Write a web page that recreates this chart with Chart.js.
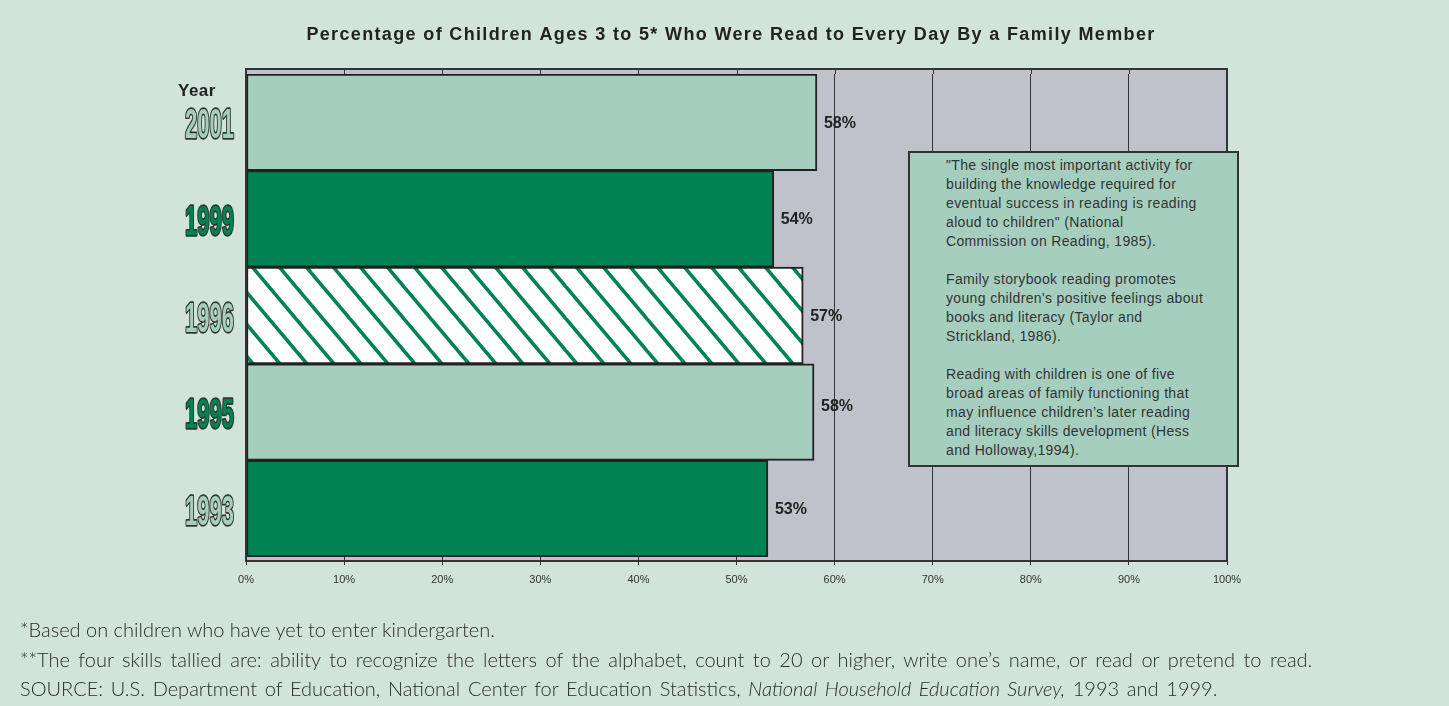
<!DOCTYPE html>
<html><head><meta charset="utf-8">
<script src="https://cdn.jsdelivr.net/npm/chart.js@4.4.1/dist/chart.umd.min.js"></script>
<style>
html,body{margin:0;padding:0;background:#d0e4dc;}
#wrap{position:relative;width:1449px;height:706px;overflow:hidden;background:#d0e4dc;}
canvas{position:absolute;left:0;top:0;}
#note{position:absolute;left:908px;top:151px;width:331px;height:316px;box-sizing:border-box;background:#a6cebf;border:2px solid #333;padding:3px 0 0 36px;font:14px "Liberation Sans",Arial,sans-serif;letter-spacing:0.35px;color:#333;line-height:19px;white-space:pre;}
#foot{position:absolute;left:20px;top:615px;font-family:Lato,"Open Sans",sans-serif;font-weight:300;font-size:20px;line-height:29.5px;color:#2a2a2a;white-space:pre;}
#foot div{height:29.5px;}
</style></head>
<body><div id="wrap"><canvas id="c" width="1449" height="706"></canvas>
<div id="note">"The single most important activity for
building the knowledge required for
eventual success in reading is reading
aloud to children" (National
Commission on Reading, 1985).

Family storybook reading promotes
young children's positive feelings about
books and literacy (Taylor and
Strickland, 1986).

Reading with children is one of five
broad areas of family functioning that
may influence children’s later reading
and literacy skills development (Hess
and Holloway,1994).</div>
<div id="foot"><div>*Based on children who have yet to enter kindergarten.</div><div style="word-spacing:3.1px">**The four skills tallied are: ability to recognize the letters of the alphabet, count to 20 or higher, write one’s name, or read or pretend to read.</div><div style="word-spacing:2.3px">SOURCE: U.S. Department of Education, National Center for Education Statistics, <i>National Household Education Survey,</i> 1993 and 1999.</div></div>
</div>
<script>
// ---- data ----
const years = ['2001', '1999', '1996', '1995', '1993'];
const percentReadTo = [58.2, 53.8, 56.8, 57.9, 53.2];
const valueLabels = ['58%', '54%', '57%', '58%', '53%'];
const xTickMin = 0;
const xTickMax = 100;
const xTickStep = 10;
const chartTitle = 'Percentage of Children Ages 3 to 5* Who Were Read to Every Day By a Family Member';
const axisTitle = 'Year';

// ---- styles ----
const LIGHT = '#a6cebf', DARK = '#008254', GRAY = '#bfc2ca', INK = '#333';
const barStyles = ['light', 'dark', 'hatch', 'light', 'dark'];
const labelStyles = ['light', 'dark', 'light', 'dark', 'light'];
const labelNudgeY = [1, 1, 1, -6, 1];

function hatch() {
  const w = 27, h = 32;
  const c = document.createElement('canvas'); c.width = w; c.height = h;
  const g = c.getContext('2d');
  g.fillStyle = '#fff'; g.fillRect(0, 0, w, h);
  g.strokeStyle = DARK; g.lineWidth = 3.6;
  for (const k of [-1, 0, 1]) {
    g.beginPath(); g.moveTo(k * w - w, -h); g.lineTo(k * w + 2 * w, 2 * h); g.stroke();
  }
  return g.createPattern(c, 'repeat');
}
const pat = hatch();
const barFill = barStyles.map(s => s === 'light' ? LIGHT : s === 'dark' ? DARK : pat);

const framePlugin = {
  id: 'frame',
  beforeDraw(chart) {
    const { ctx, chartArea: a } = chart;
    ctx.save();
    ctx.fillStyle = GRAY;
    ctx.fillRect(a.left, a.top - 5, a.right - a.left, a.bottom - a.top + 9);
    ctx.restore();
  },
  beforeDatasetsDraw(chart) {
    const { ctx, chartArea: a } = chart;
    const xs = chart.scales.x;
    ctx.save();
    ctx.strokeStyle = INK; ctx.lineWidth = 1;
    xs.ticks.forEach(t => {
      const x = Math.round(xs.getPixelForValue(t.value)) + 0.5;
      ctx.beginPath(); ctx.moveTo(x, a.top - 5); ctx.lineTo(x, a.top); ctx.stroke();
    });
    ctx.restore();
  },
  afterDatasetsDraw(chart) {
    const { ctx } = chart;
    const meta = chart.getDatasetMeta(0);
    ctx.save();
    ctx.font = 'bold 16px "Liberation Sans", Arial, sans-serif';
    ctx.fillStyle = '#222';
    ctx.textAlign = 'left'; ctx.textBaseline = 'middle';
    meta.data.forEach((bar, i) => ctx.fillText(valueLabels[i], bar.x + 7, bar.y + labelNudgeY[i]));
    ctx.restore();
  },
  afterDraw(chart) {
    const { ctx, chartArea: a } = chart;
    ctx.save();
    ctx.strokeStyle = INK; ctx.lineWidth = 2;
    ctx.strokeRect(a.left, a.top - 5, a.right - a.left, a.bottom - a.top + 9);
    // title
    ctx.font = 'bold 18px "Liberation Sans", Arial, sans-serif';
    try { ctx.letterSpacing = '1.35px'; } catch (e) {}
    ctx.fillStyle = '#222'; ctx.textAlign = 'center'; ctx.textBaseline = 'middle';
    ctx.fillText(chartTitle, 731, 35);
    try { ctx.letterSpacing = '0.5px'; } catch (e) {}
    // axis title
    ctx.font = 'bold 17px "Liberation Sans", Arial, sans-serif';
    ctx.textAlign = 'left';
    ctx.fillText(axisTitle, 178, 91);
    try { ctx.letterSpacing = '0px'; } catch (e) {}
    // y labels
    const ys = chart.scales.y;
    ys.ticks.forEach((t, i) => {
      const y = ys.getPixelForTick(i);
      ctx.save();
      ctx.font = 'bold 43px "Liberation Sans Narrow", "Liberation Sans", sans-serif';
      const w = ctx.measureText(years[i]).width;
      ctx.translate(234, y + 16);
      ctx.scale(49 / w, 1);
      ctx.textAlign = 'right'; ctx.textBaseline = 'alphabetic';
      ctx.lineWidth = 3.4; ctx.strokeStyle = INK; ctx.lineJoin = 'round';
      ctx.strokeText(years[i], 0, 0);
      ctx.fillStyle = labelStyles[i] === 'light' ? LIGHT : DARK;
      ctx.fillText(years[i], 0, 0);
      ctx.restore();
    });
    ctx.restore();
  }
};

new Chart(document.getElementById('c'), {
  type: 'bar',
  data: {
    labels: years,
    datasets: [{
      data: percentReadTo,
      backgroundColor: barFill,
      borderColor: '#222',
      borderWidth: 2,
      borderSkipped: false,
      categoryPercentage: 1,
      barPercentage: 1
    }]
  },
  options: {
    indexAxis: 'y',
    responsive: false,
    animation: false,
    devicePixelRatio: 1,
    layout: { padding: { left: 0, top: 74, right: 222, bottom: 109 } },
    plugins: { legend: { display: false }, tooltip: { enabled: false }, title: { display: false } },
    scales: {
      x: {
        min: xTickMin, max: xTickMax,
        ticks: { stepSize: xTickStep, callback: v => v + '%', color: INK, padding: 8,
                 font: { size: 11, family: '"Liberation Sans", Arial, sans-serif' } },
        grid: { color: INK, lineWidth: 1, tickLength: 8, tickColor: INK },
        border: { display: false },
        afterFit: s => { s.height = 40; }
      },
      y: {
        ticks: { display: false },
        grid: { display: false },
        border: { display: false },
        afterFit: s => { s.width = 246; }
      }
    }
  },
  plugins: [framePlugin]
});
</script>
</body></html>
